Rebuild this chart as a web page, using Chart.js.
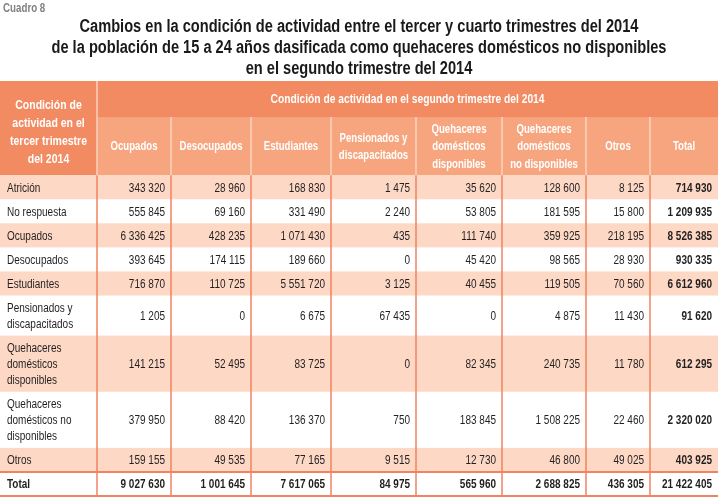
<!DOCTYPE html>
<html>
<head>
<meta charset="utf-8">
<script src="https://cdn.jsdelivr.net/npm/chart.js@4/dist/chart.umd.min.js"></script>
<style>
html,body{margin:0;padding:0;background:#fff;}
canvas{display:block;}
</style>
</head>
<body>
<canvas id="c" width="718" height="498"></canvas>
<script>
// ---------- DATA ----------
const tableNumber = "Cuadro 8";
const titleLines = [
  "Cambios en la condición de actividad entre el tercer y cuarto trimestres del 2014",
  "de la población de 15 a 24 años dasificada como quehaceres domésticos no disponibles",
  "en el segundo trimestre del 2014"
];
const rowHeader = ["Condición de", "actividad en el", "tercer trimestre", "del 2014"];
const groupHeader = "Condición de actividad en el segundo trimestre del 2014";
const columnLabels = [
  ["Ocupados"], ["Desocupados"], ["Estudiantes"],
  ["Pensionados y", "discapacitados"],
  ["Quehaceres", "domésticos", "disponibles"],
  ["Quehaceres", "domésticos", "no disponibles"],
  ["Otros"], ["Total"]
];
const rowLabels = [
  ["Atrición"], ["No respuesta"], ["Ocupados"], ["Desocupados"], ["Estudiantes"],
  ["Pensionados y", "discapacitados"],
  ["Quehaceres", "domésticos", "disponibles"],
  ["Quehaceres", "domésticos no", "disponibles"],
  ["Otros"]
];
const ocupados      = [343320, 555845, 6336425, 393645, 716870, 1205, 141215, 379950, 159155];
const desocupados   = [28960, 69160, 428235, 174115, 110725, 0, 52495, 88420, 49535];
const estudiantes   = [168830, 331490, 1071430, 189660, 5551720, 6675, 83725, 136370, 77165];
const pensionados   = [1475, 2240, 435, 0, 3125, 67435, 0, 750, 9515];
const qdDisponibles = [35620, 53805, 111740, 45420, 40455, 0, 82345, 183845, 12730];
const qdNoDisp      = [128600, 181595, 359925, 98565, 119505, 4875, 240735, 1508225, 46800];
const otros         = [8125, 15800, 218195, 28930, 70560, 11430, 11780, 22460, 49025];
const totalCol      = [714930, 1209935, 8526385, 930335, 6612960, 91620, 612295, 2320020, 403925];
const totalLabel = "Total";
const totalRow = [9027630, 1001645, 7617065, 84975, 565960, 2688825, 436305, 21422405];

const seriesColumns = [ocupados, desocupados, estudiantes, pensionados, qdDisponibles, qdNoDisp, otros, totalCol];

// ---------- LAYOUT / STYLE ----------
const colEdges = [0, 97, 171, 251, 331, 416, 502, 586, 650, 718];
const bandH = 36, subH = 58, totalH = 25;
const rowH = n => 8 + 16 * n;
const C = {
  dark: "rgb(242,139,98)", mid: "rgb(246,165,127)", pink: "rgb(252,216,197)",
  line: "rgb(240,132,98)", hdrLine: "rgb(252,212,192)", text: "#231f20",
  grey: "#808080", title: "#1a1a1a"
};
const FAM = "'Liberation Sans', Arial, sans-serif";
const SX = 0.8;

const fmt = n => String(n).replace(/\B(?=(\d{3})+(?!\d))/g, " ");

// row extents in y units
const rowStarts = [];
let acc = bandH + subH;
rowLabels.forEach(l => { rowStarts.push(acc); acc += rowH(l.length); });
rowStarts.push(acc);
const totalStart = acc;
const yMax = acc + totalH;

function txt(ctx, s, x, y, align, font, color, sx) {
  ctx.save();
  ctx.font = font;
  ctx.fillStyle = color;
  ctx.textAlign = align;
  ctx.textBaseline = "middle";
  ctx.translate(x, y);
  ctx.scale(sx, 1);
  ctx.fillText(s, 0, 0);
  ctx.restore();
}
function lines(ctx, arr, x, yc, lh, align, font, color, sx) {
  const y0 = yc - (arr.length - 1) * lh / 2;
  arr.forEach((s, i) => txt(ctx, s, x, y0 + i * lh, align, font, color, sx));
}

const tablePlugin = {
  id: "table",
  afterDraw(chart) {
    const ctx = chart.ctx;
    const X = v => chart.scales.x.getPixelForValue(v);
    const Y = v => chart.scales.y.getPixelForValue(v);
    const reg = "12.5px " + FAM, bold = "bold 12.5px " + FAM, hb = "bold 12px " + FAM;

    // Title
    txt(ctx, tableNumber, 3, 9, "left", "bold 12.5px " + FAM, C.grey, 0.78);
    ctx.save();
    ctx.font = "bold 18px " + FAM;
    const tsx = 615 / ctx.measureText(titleLines[1]).width;
    ctx.restore();
    titleLines.forEach((s, i) => txt(ctx, s, 359, 27 + i * 21, "center", "bold 18px " + FAM, C.title, tsx));

    // header backgrounds
    ctx.fillStyle = C.dark;
    ctx.fillRect(X(0), Y(0), X(718) - X(0), Y(bandH + subH) - Y(0));
    ctx.fillStyle = C.mid;
    ctx.fillRect(X(colEdges[1]), Y(bandH), X(718) - X(colEdges[1]), Y(bandH + subH) - Y(bandH));

    // pink row bands
    rowLabels.forEach((l, i) => {
      if (i % 2 === 0) {
        ctx.fillStyle = C.pink;
        ctx.fillRect(X(0), Y(rowStarts[i]), X(718) - X(0), Y(rowStarts[i + 1]) - Y(rowStarts[i]));
      }
    });

    // header dividers
    ctx.strokeStyle = C.hdrLine;
    ctx.lineWidth = 1.5;
    ctx.beginPath();
    ctx.moveTo(X(colEdges[1]), Y(0)); ctx.lineTo(X(colEdges[1]), Y(bandH + subH));
    for (let k = 2; k < colEdges.length - 1; k++) {
      ctx.moveTo(X(colEdges[k]), Y(bandH)); ctx.lineTo(X(colEdges[k]), Y(bandH + subH));
    }
    ctx.stroke();

    // data vertical lines
    ctx.strokeStyle = C.line;
    ctx.lineWidth = 1.5;
    ctx.beginPath();
    for (let k = 1; k < colEdges.length - 1; k++) {
      ctx.moveTo(X(colEdges[k]), Y(bandH + subH)); ctx.lineTo(X(colEdges[k]), Y(yMax));
    }
    ctx.stroke();
    // total lines
    ctx.lineWidth = 2;
    ctx.beginPath();
    ctx.moveTo(X(0), Y(totalStart)); ctx.lineTo(X(718), Y(totalStart));
    ctx.moveTo(X(0), Y(yMax) - 1); ctx.lineTo(X(718), Y(yMax) - 1);
    ctx.stroke();

    // header texts
    lines(ctx, rowHeader, (X(0) + X(colEdges[1])) / 2, (Y(0) + Y(bandH + subH)) / 2 + 4, 18, "center", "bold 12.5px " + FAM, "#fff", 0.84);
    txt(ctx, groupHeader, (X(colEdges[1]) + X(718)) / 2, (Y(0) + Y(bandH)) / 2 + 1, "center", "bold 12.5px " + FAM, "#fff", 0.82);
    columnLabels.forEach((l, j) => {
      lines(ctx, l, (X(colEdges[j + 1]) + X(colEdges[j + 2])) / 2, (Y(bandH) + Y(bandH + subH)) / 2 + 1, 17.5, "center", hb, "#fff", SX);
    });

    // data rows
    rowLabels.forEach((l, i) => {
      const yc = (Y(rowStarts[i]) + Y(rowStarts[i + 1])) / 2 + 1;
      lines(ctx, l, X(0) + 7, yc, 16, "left", reg, C.text, SX);
      seriesColumns.forEach((col, j) => {
        const last = j === seriesColumns.length - 1;
        txt(ctx, fmt(col[i]), X(colEdges[j + 2]) - 6, yc, "right", last ? bold : reg, C.text, SX);
      });
    });
    // total row
    const ty = (Y(totalStart) + Y(yMax)) / 2;
    txt(ctx, totalLabel, X(0) + 7, ty, "left", bold, C.text, SX);
    totalRow.forEach((v, j) => txt(ctx, fmt(v), X(colEdges[j + 2]) - 6, ty, "right", bold, C.text, SX));
  }
};

new Chart(document.getElementById("c"), {
  type: "scatter",
  data: { datasets: [{ data: [], pointRadius: 0 }] },
  options: {
    responsive: false,
    animation: false,
    devicePixelRatio: 1,
    layout: { padding: { top: 81, bottom: 1, left: 0, right: 0 } },
    plugins: { legend: { display: false }, tooltip: { enabled: false }, title: { display: false } },
    scales: {
      x: { type: "linear", min: 0, max: 718, display: false },
      y: { type: "linear", min: 0, max: yMax, reverse: true, display: false }
    }
  },
  plugins: [tablePlugin]
});
</script>
</body>
</html>
